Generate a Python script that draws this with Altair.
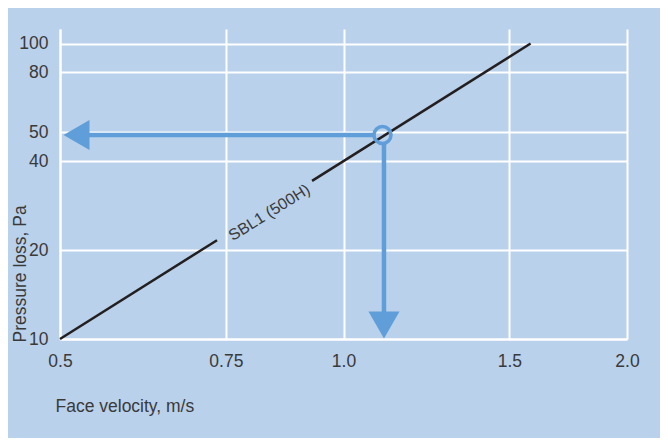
import altair as alt
import pandas as pd

# ---- data ----
x_ticks = [0.5, 0.75, 1.0, 1.5, 2.0]
x_tick_labels = ["0.5", "0.75", "1.0", "1.5", "2.0"]
y_ticks = [10, 20, 40, 50, 80, 100]

# SBL1 (500H) curve, drawn in two pieces with a gap for its label
line_v = [0.5, 0.734, 0.926, 1.58]
line_p = [10, 21.6, 34.3, 100]
line_seg = ["a", "a", "b", "b"]

label_v = [0.83]
label_p = [27.5]
label_text = ["SBL1 (500H)"]

# operating point and reading arrows
op_v = [1.1]
op_p = [49]
arrow_left_v = [0.5]   # horizontal arrow points to the pressure axis
arrow_down_p = [10]    # vertical arrow points to the velocity axis

BG = "#b9d1ea"
BLUE = "#5f9ed8"
TXT = "#3a3a3a"
FONT = "Liberation Sans"

xscale = alt.Scale(type="log", domain=[0.5, 2.0], nice=False)
yscale = alt.Scale(type="log", domain=[10, 112], nice=False)

label_expr = "".join(
    f"datum.value == {v} ? '{l}' : " for v, l in zip(x_ticks, x_tick_labels)
) + "''"

xaxis = alt.Axis(
    values=x_ticks, labelExpr=label_expr, title="Face velocity, m/s",
    labelFlush=False, labelPadding=13, titleX=-5, titleY=67,
    titleAlign="left", titleBaseline="middle", titleAnchor="start",
)
yaxis = alt.Axis(
    values=y_ticks, title="Pressure loss, Pa", labelPadding=12,
    titleX=-40, titleY=313, titleAngle=270, titleAlign="left",
    titleBaseline="middle", titleAnchor="start", labelOverlap=False,
)

line_df = pd.DataFrame({"v": line_v, "p": line_p, "seg": line_seg})
curve = alt.Chart(line_df).mark_line(color="#231f20", strokeWidth=2.5).encode(
    x=alt.X("v:Q", scale=xscale, axis=xaxis),
    y=alt.Y("p:Q", scale=yscale, axis=yaxis),
    detail="seg:N",
)

lab_df = pd.DataFrame({"v": label_v, "p": label_p, "t": label_text})
label = alt.Chart(lab_df).mark_text(
    angle=328, fontSize=16, font=FONT, color=TXT, dy=4
).encode(
    x=alt.X("v:Q", scale=xscale),
    y=alt.Y("p:Q", scale=yscale),
    text="t:N",
)

h_df = pd.DataFrame({"x1": arrow_left_v, "x2": op_v, "p": op_p})
h_shaft = alt.Chart(h_df).mark_rule(
    color=BLUE, strokeWidth=4.5, xOffset=18, x2Offset=-9
).encode(
    x=alt.X("x1:Q", scale=xscale), x2="x2:Q", y=alt.Y("p:Q", scale=yscale)
)
h_head = alt.Chart(h_df).mark_point(
    shape="triangle-left", filled=True, size=900, color=BLUE, opacity=1, xOffset=16.5
).encode(x=alt.X("x1:Q", scale=xscale), y=alt.Y("p:Q", scale=yscale))

v_df = pd.DataFrame({"v": op_v, "p1": op_p, "p2": arrow_down_p})
v_shaft = alt.Chart(v_df).mark_rule(
    color=BLUE, strokeWidth=4.5, yOffset=9, y2Offset=-20, xOffset=1.5
).encode(
    x=alt.X("v:Q", scale=xscale), y=alt.Y("p1:Q", scale=yscale), y2="p2:Q"
)
v_head = alt.Chart(v_df).mark_point(
    shape="triangle-down", filled=True, size=961, color=BLUE, opacity=1,
    yOffset=-14, xOffset=1.5
).encode(x=alt.X("v:Q", scale=xscale), y=alt.Y("p2:Q", scale=yscale))

op_df = pd.DataFrame({"v": op_v, "p": op_p})
op_circle = alt.Chart(op_df).mark_point(
    shape="circle", filled=False, size=290, color=BLUE, strokeWidth=3.5, opacity=1
).encode(x=alt.X("v:Q", scale=xscale), y=alt.Y("p:Q", scale=yscale))

chart = alt.layer(
    curve, label, h_shaft, v_shaft, h_head, v_head, op_circle
).properties(
    width=567, height=310,
    autosize=alt.AutoSizeParams(type="none"),
    padding={"left": 52, "top": 21, "right": 33, "bottom": 99},
    background=BG,
).configure_view(stroke=None).configure_axis(
    domainColor="white", domainWidth=2,
    gridColor="white", gridWidth=2, gridOpacity=1,
    ticks=False, tickSize=0,
    labelFont=FONT, labelFontSize=17.5, labelColor=TXT,
    titleFont=FONT, titleFontSize=17.5, titleColor=TXT, titleFontWeight="normal",
)

chart.save("out.html", embed_options={"renderer": "svg", "actions": False})
